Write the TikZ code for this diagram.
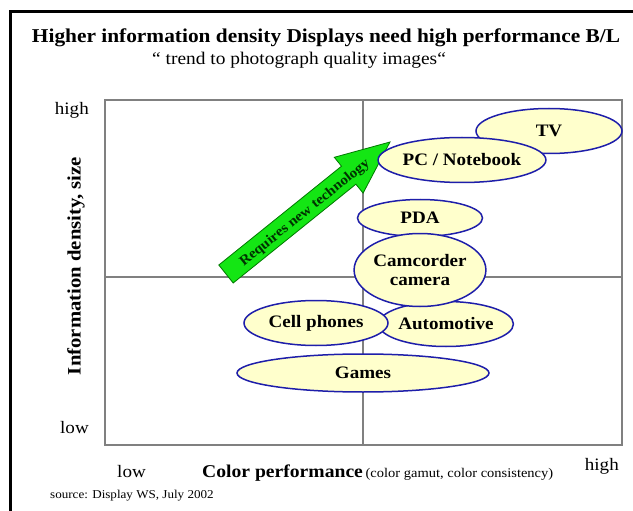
\documentclass[tikz,border=0pt]{standalone}
\usepackage{fontspec}
\setmainfont{Liberation Serif}[FakeStretch=1.09]
\usetikzlibrary{shapes.geometric}
\definecolor{ellfill}{RGB}{255,255,204}
\definecolor{elldraw}{RGB}{30,30,170}
\definecolor{gridgray}{RGB}{128,128,128}
\definecolor{arrowfill}{RGB}{20,230,20}
\definecolor{arrowdraw}{RGB}{0,120,0}
\tikzset{
  bubble/.style={ellipse, draw=elldraw, fill=ellfill, line width=1.5pt, inner sep=0pt,
    font=\fontsize{17.5}{19}\selectfont\bfseries, align=center},
  axislbl/.style={inner sep=0pt, font=\fontsize{17.5}{20}\selectfont},
  gridline/.style={draw=gridgray, line width=1.3pt},
}
\begin{document}
\begin{tikzpicture}[x=1pt,y=-1pt]
\useasboundingbox (0,0) rectangle (633,511);
% outer frame (top and left edges)
\draw[line width=3pt] (10,511) -- (10,12) -- (633,12);
% titles
\node[anchor=base, inner sep=0pt, font=\fontsize{19.6}{22}\selectfont\bfseries] (title) at (326,43)
  {Higher information density Displays need high performance B/L};
\node[anchor=base west, inner sep=0pt, font=\fontsize{17.8}{20}\selectfont] (subtitle) at (152,65)
  {“ trend to photograph quality images“};
% plot area
\draw[gridline] (105,100) rectangle (622,445);
\draw[gridline] (363,100) -- (363,445);
\draw[gridline] (105,277) -- (622,277);
% axis labels
\node[axislbl, anchor=base east] (yhigh) at (89,115) {high};
\node[axislbl, anchor=base east] (ylow) at (89,433) {low};
\node[inner sep=0pt, rotate=90, font=\fontsize{19}{22}\selectfont\bfseries] (ylabel) at (76,266)
  {Information density, size};
\node[axislbl, anchor=base west] (xlow) at (117,477) {low};
\node[inner sep=0pt, anchor=base west] (xlabel) at (202,477)
  {{\fontsize{18}{20}\selectfont\bfseries Color performance} {\fontsize{13.3}{16}\selectfont (color gamut, color consistency)}};
\node[axislbl, anchor=base east] (xhigh) at (619,470) {high};
\node[inner sep=0pt, anchor=base west, font=\fontsize{12}{14}\selectfont] (source) at (50,498)
  {source: Display WS, July 2002};
% green arrow
\draw[fill=arrowfill, draw=arrowdraw, line width=0.8pt, line join=miter]
  (218.8,265) -- (341.5,166.2) -- (334.3,157.3) -- (390,142) -- (363.1,193.1)
  -- (355.9,184.2) -- (233.2,283) -- cycle;
\node[inner sep=0pt, rotate=38.8, font=\fontsize{14}{16}\selectfont\bfseries, text=black!80!green] (arrowtxt)
  at (305,213) {Requires new technology};
% bubbles
\node[bubble, minimum width=146pt, minimum height=45pt] (tv) at (549,131) {TV};
\node[bubble, minimum width=159pt, minimum height=45pt] (pc) at (462,160) {PC / Notebook};
\node[bubble, minimum width=127pt, minimum height=45pt] (auto) at (446,324) {Automotive};
\node[bubble, minimum width=125pt, minimum height=37pt] (pda) at (420,218) {PDA};
\node[bubble, minimum width=126pt, minimum height=73pt] (cam) at (420,270) {Camcorder\\camera};
\node[bubble, minimum width=144pt, minimum height=45pt] (cell) at (316,323) {Cell phones};
\node[bubble, minimum width=252pt, minimum height=38pt] (games) at (363,373) {Games};
\end{tikzpicture}
\end{document}
